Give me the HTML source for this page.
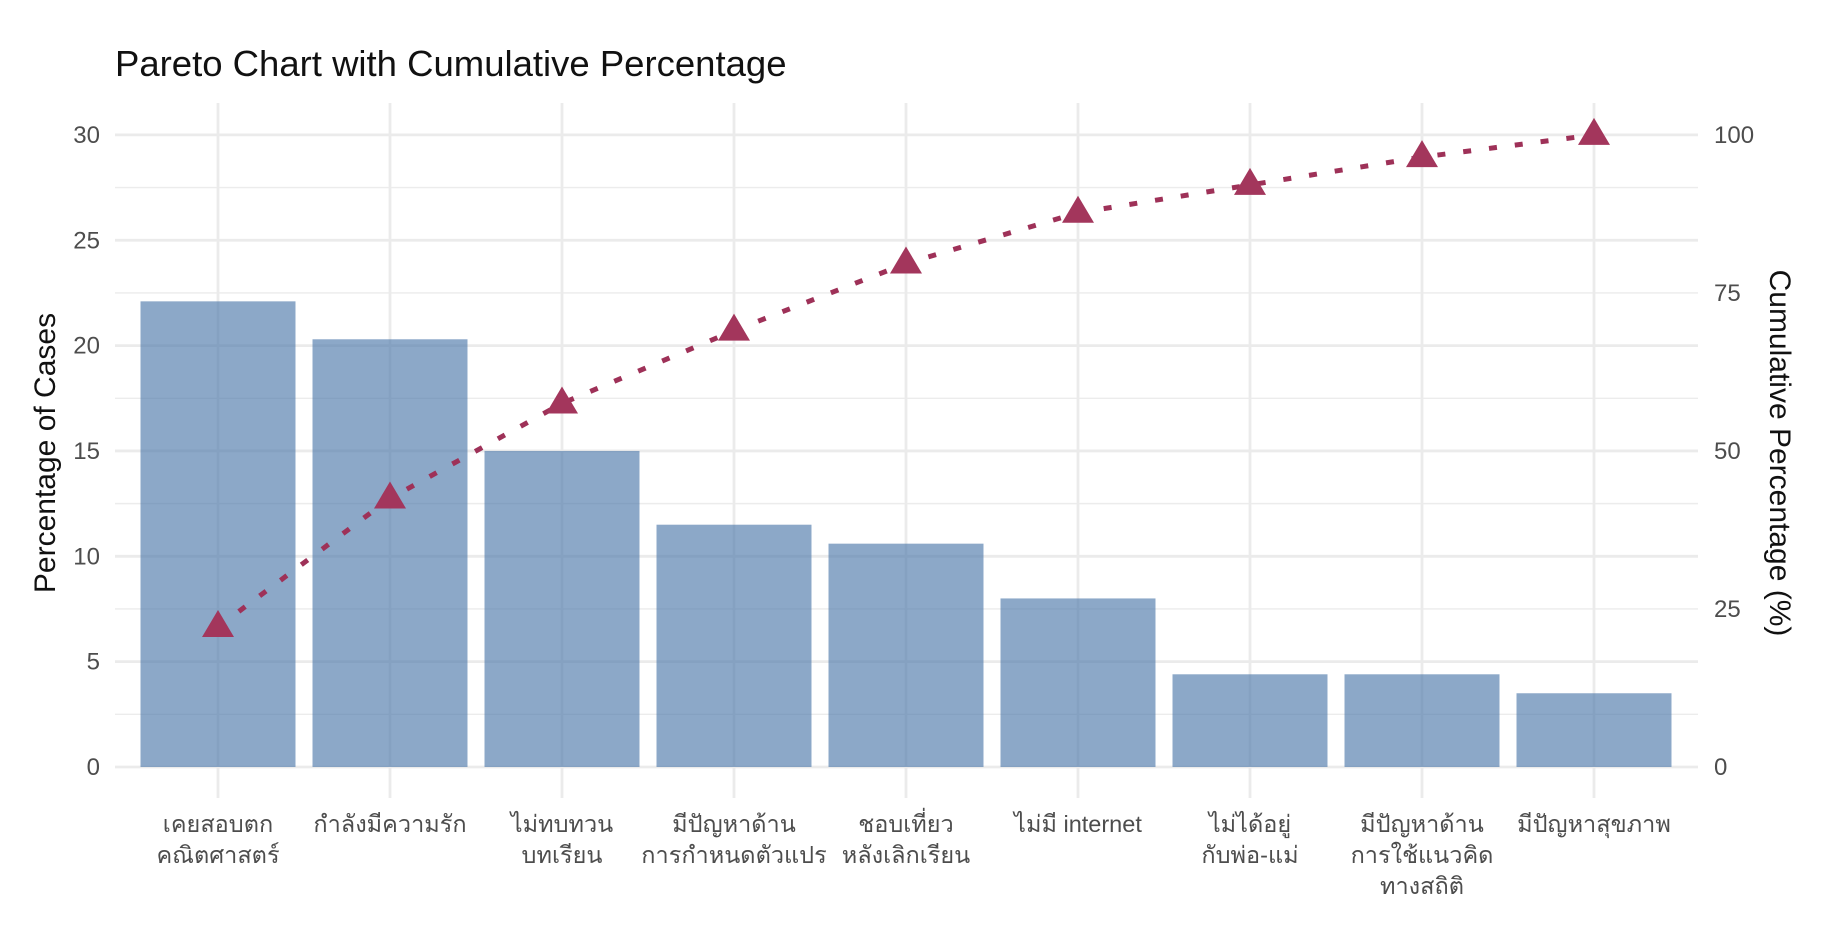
<!DOCTYPE html>
<html><head><meta charset="utf-8"><style>
html,body{margin:0;padding:0;background:#fff;}
svg{display:block;font-family:"Liberation Sans","DejaVu Sans",sans-serif;}
</style></head><body>
<svg id="chart" width="1832" height="930" viewBox="0 0 1832 930" xmlns="http://www.w3.org/2000/svg">
<text x="115" y="76" font-size="36.5" fill="#111">Pareto Chart with Cumulative Percentage</text>
<g id="grid"></g>
<g id="bars"></g>
<g id="line"></g>
<g id="axes"></g>
<text transform="translate(55,453) rotate(-90)" text-anchor="middle" font-size="30" fill="#111">Percentage of Cases</text>
<text transform="translate(1770,453) rotate(90)" text-anchor="middle" font-size="30" fill="#111">Cumulative Percentage (%)</text>
</svg>
<script>
const categories = [["เคยสอบตก","คณิตศาสตร์"],["กำลังมีความรัก"],["ไม่ทบทวน","บทเรียน"],["มีปัญหาด้าน","การกำหนดตัวแปร"],["ชอบเที่ยว","หลังเลิกเรียน"],["ไม่มี internet"],["ไม่ได้อยู่","กับพ่อ-แม่"],["มีปัญหาด้าน","การใช้แนวคิด","ทางสถิติ"],["มีปัญหาสุขภาพ"]];
const percentages = [22.1, 20.3, 15.0, 11.5, 10.6, 8.0, 4.4, 4.4, 3.5];
const leftTicks = [0, 5, 10, 15, 20, 25, 30];
const rightTicks = [0, 25, 50, 75, 100];

const NS = "http://www.w3.org/2000/svg";
const x0 = 218, step = 172, barW = 155;
const yZero = 767, yPerUnit = 21.07;
const panelL = 115, panelR = 1698, panelT = 103, panelB = 798;
const xs = i => x0 + i * step;
const ys = v => yZero - v * yPerUnit;
const ys2 = v => ys(v * 0.3);
function mk(tag, attrs, parent) {
  const e = document.createElementNS(NS, tag);
  for (const k in attrs) e.setAttribute(k, attrs[k]);
  parent.appendChild(e);
  return e;
}
const grid = document.getElementById('grid');
for (let v = 2.5; v <= 30; v += 5) {
  const l = mk('line', {x1: panelL, x2: panelR, y1: ys(v), y2: ys(v), stroke: '#ececec', 'stroke-width': 1.4}, grid);
  
  
}
leftTicks.forEach(v => {
  const l = mk('line', {x1: panelL, x2: panelR, y1: ys(v), y2: ys(v), stroke: '#ebebeb', 'stroke-width': 2.8}, grid);
  
  
});
categories.forEach((c, i) => {
  const l = mk('line', {x1: xs(i), x2: xs(i), y1: panelT, y2: panelB, stroke: '#ebebeb', 'stroke-width': 2.8}, grid);
  
  
});
const bars = document.getElementById('bars');
percentages.forEach((v, i) => {
  const r = mk('rect', {x: xs(i) - barW / 2, y: ys(v), width: barW, height: ys(0) - ys(v), fill: '#4f7aaa', 'fill-opacity': 0.65}, bars);
  
  
});
const total = percentages.reduce((a, b) => a + b, 0);
let acc = 0;
const cum = percentages.map(v => (acc += v, acc / total * 100));
const lg = document.getElementById('line');
const pts = cum.map((c, i) => xs(i) + ',' + ys2(c)).join(' ');
const pl = mk('polyline', {points: pts, fill: 'none', stroke: '#9e3158', 'stroke-width': 5, 'stroke-dasharray': '8 18'}, lg);


cum.forEach((c, i) => {
  const cx = xs(i), cy = ys2(c);
  const t = mk('polygon', {points: `${cx},${cy - 17} ${cx - 16},${cy + 10} ${cx + 16},${cy + 10}`, fill: '#a3365c'}, lg);
  
  
});
const axes = document.getElementById('axes');
leftTicks.forEach(v => {
  const t = mk('text', {x: 100, y: ys(v) + 8, 'text-anchor': 'end', 'font-size': 24, fill: '#4d4d4d'}, axes);
  t.textContent = v;
  
  
});
rightTicks.forEach(v => {
  const t = mk('text', {x: 1714, y: ys2(v) + 8, 'text-anchor': 'start', 'font-size': 24, fill: '#4d4d4d'}, axes);
  t.textContent = v;
  
  
});
categories.forEach((lines, i) => {
  const t = mk('text', {x: xs(i), y: 832, 'text-anchor': 'middle', 'font-size': 23.5, fill: '#4d4d4d'}, axes);
  
  
  lines.forEach((s, k) => {
    const ts = mk('tspan', {x: xs(i), dy: k === 0 ? 0 : 31}, t);
    ts.textContent = s;
  });
});
</script>
</body></html>
